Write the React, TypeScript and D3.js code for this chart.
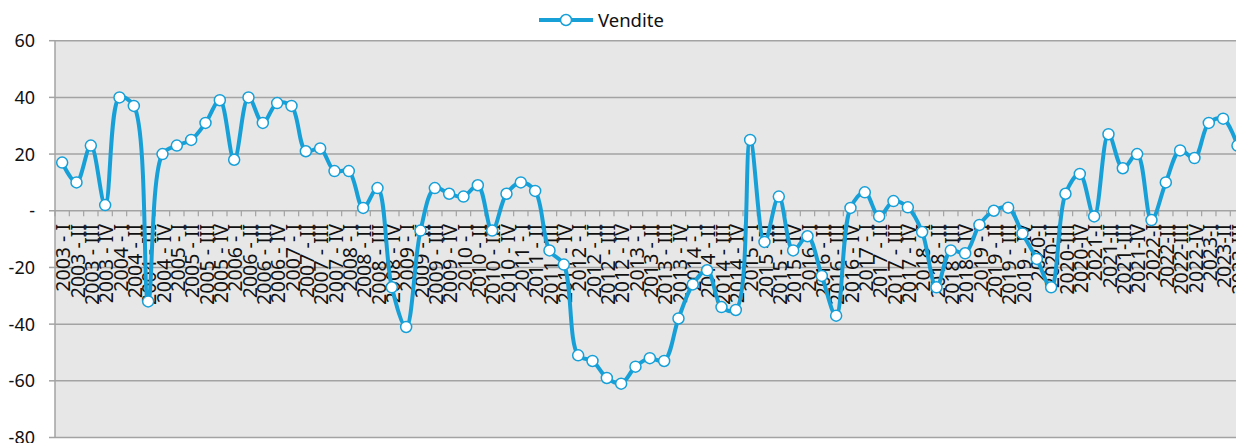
import React from "react";
import * as d3 from "d3";

const categories: string[] = [
  "2003 - I", "2003 - II", "2003 - III", "2003 - IV",
  "2004 - I", "2004 - II", "2004 - III", "2004 - IV",
  "2005 - I", "2005 - II", "2005 - III", "2005 - IV",
  "2006 - I", "2006 - II", "2006 - III", "2006 - IV",
  "2007 - I", "2007 - II", "2007 - III", "2007 - IV",
  "2008 - I", "2008 - II", "2008 - III", "2008 - IV",
  "2009 - I", "2009 - II", "2009 - III", "2009 - IV",
  "2010 - I", "2010 - II", "2010 - III", "2010 - IV",
  "2011 - I", "2011 - II", "2011 - III", "2011 - IV",
  "2012 - I", "2012 - II", "2012 - III", "2012 - IV",
  "2013 - I", "2013 - II", "2013 - III", "2013 - IV",
  "2014 - I", "2014 - II", "2014 - III", "2014 - IV",
  "2015 - I", "2015 - II", "2015 - III", "2015 - IV",
  "2016 - I", "2016 - II", "2016 - III", "2016 - IV",
  "2017 - I", "2017 - II", "2017 - III", "2017 - IV",
  "2018 - I", "2018 - II", "2018 - III", "2018 - IV",
  "2019 - I", "2019 - II", "2019 - III", "2019 - IV",
  "2020-I", "2020-II", "2020-III", "2020-IV",
  "2021-I", "2021-II", "2021-III", "2021-IV",
  "2022-I", "2022-II", "2022-III", "2022-IV",
  "2023-I", "2023-II", "2023-III",
];

const vendite: number[] = [
  17, 10, 23, 2,
  40, 37, -32, 20,
  23, 25, 31, 39,
  18, 40, 31, 38,
  37, 21, 22, 14,
  14, 1, 8, -27,
  -41, -7, 8, 6,
  5, 9, -7, 6,
  10, 7, -14, -19,
  -51, -53, -59, -61,
  -55, -52, -53, -38,
  -26, -21, -34, -35,
  25, -11, 5, -14,
  -9, -23, -37, 1,
  6.5, -2, 3.4, 1.2,
  -7.5, -27, -14, -15,
  -5, 0, 1.1, -8,
  -17, -27, 6, 13,
  -2, 27, 15, 20,
  -3.3, 10, 21.3, 18.6,
  31, 32.5, 23,
];

const yTicks: number[] = [60, 40, 20, 0, -20, -40, -60, -80];
const yTickLabels: string[] = ["60", "40", "20", "-", "-20", "-40", "-60", "-80"];
const seriesName = "Vendite";

const W = 1236;
const H = 443;
const BLUE = "#17a0d8";
const FONT = "'Noto Sans', sans-serif";

export default function App() {
  const left = 55;
  const step = 14.333;
  const x = d3
    .scaleBand<string>()
    .domain(categories)
    .range([left, left + step * categories.length])
    .paddingInner(0)
    .paddingOuter(0);
  const y = d3.scaleLinear().domain([-80, 60]).range([437.5, 40.7]);
  const cx = (c: string) => (x(c) as number) + x.bandwidth() / 2;

  const line = d3
    .line<number>()
    .x((_, i) => cx(categories[i]))
    .y((d) => y(d))
    .curve(d3.curveCatmullRom.alpha(0.5));

  const plotRight = left + step * categories.length;
  const y0 = y(0);

  return (
    <svg
      width={W}
      height={H}
      style={{ position: "absolute", left: 0, top: 0, background: "#fff" }}
      fontFamily={FONT}
    >
      <rect x={left} y={y(60)} width={plotRight - left} height={y(-80) - y(60)} fill="#e7e7e7" />
      {yTicks.map((t, i) => (
        <g key={t}>
          <line x1={left} x2={plotRight} y1={y(t)} y2={y(t)} stroke="#a3a3a3" strokeWidth={1.5} />
          <line x1={49} x2={left} y1={y(t)} y2={y(t)} stroke="#a3a3a3" strokeWidth={1.5} />
          <text x={35} y={y(t)} dy="0.36em" textAnchor="end" fontSize={18} fill="#111">
            {yTickLabels[i]}
          </text>
        </g>
      ))}
      <line x1={left} x2={left} y1={y(60)} y2={y(-80)} stroke="#a3a3a3" strokeWidth={1.5} />
      {categories.map((c, i) => (
        <line
          key={"tk" + i}
          x1={x(c) as number}
          x2={x(c) as number}
          y1={y0}
          y2={y0 + 5.5}
          stroke="#a3a3a3"
          strokeWidth={1.2}
        />
      ))}
      {categories.map((c, i) => (
        <text
          key={"lb" + i}
          transform={`translate(${cx(c) + 1},${224}) rotate(-90)`}
          dy="0.36em"
          textAnchor="end"
          fontSize={19.5}
          fill="#111"
        >
          {c}
        </text>
      ))}
      <path d={line(vendite) || ""} fill="none" stroke={BLUE} strokeWidth={4} strokeLinejoin="round" />
      {vendite.map((v, i) => (
        <circle key={"pt" + i} cx={cx(categories[i])} cy={y(v)} r={5.5} fill="#fff" stroke={BLUE} strokeWidth={1.5} />
      ))}
      <g>
        <line x1={539} x2={593} y1={20} y2={20} stroke={BLUE} strokeWidth={4} />
        <circle cx={566} cy={20} r={5.5} fill="#fff" stroke={BLUE} strokeWidth={1.5} />
        <text x={598} y={20} dy="0.36em" fontSize={18.5} fill="#111">
          {seriesName}
        </text>
      </g>
    </svg>
  );
}
